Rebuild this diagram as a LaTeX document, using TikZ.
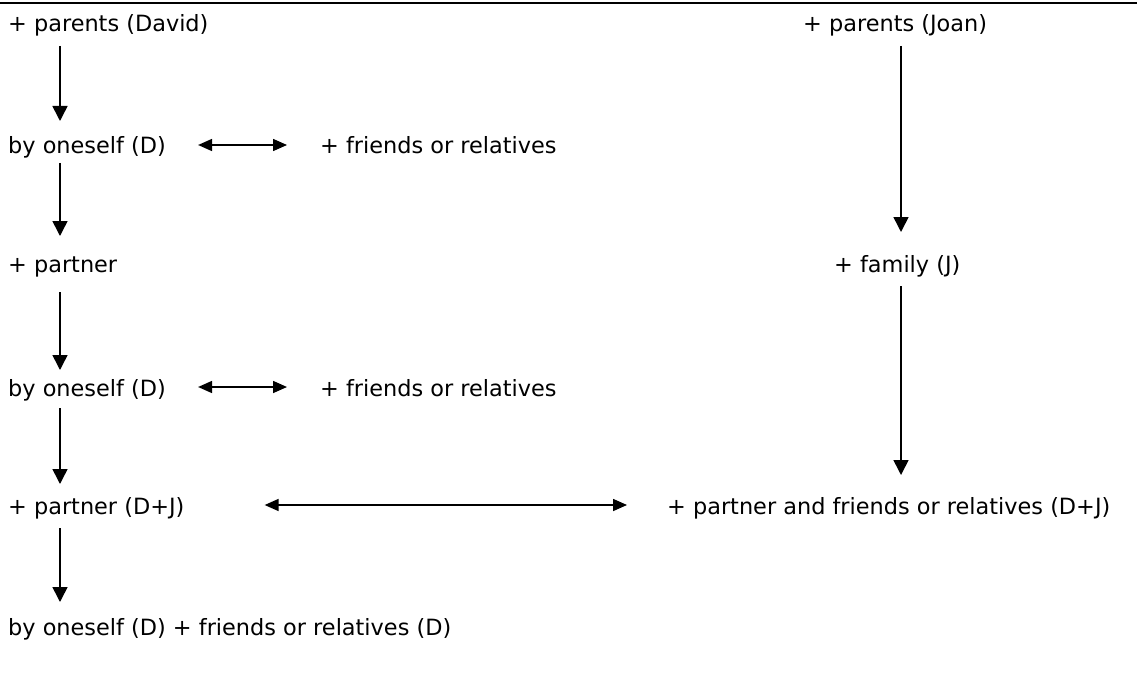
\documentclass[tikz,border=0pt]{standalone}
\usepackage{fontspec}
\setmainfont{DejaVu Sans}
\usetikzlibrary{arrows.meta,calc}

\tikzset{
  label/.style={anchor=base west, inner sep=0pt, font=\fontsize{22.4}{27}\selectfont, text=black},
  down/.style={line width=1.6pt, -{Triangle[length=15pt,width=15pt]}},
  both/.style={line width=1.6pt, {Triangle[length=14pt,width=12pt]}-{Triangle[length=14pt,width=12pt]}}
}

\begin{document}
\begin{tikzpicture}[x=1pt,y=-1pt]
  \useasboundingbox (0,0) rectangle (1137,679);

  % top rule
  \draw[line width=2pt] (0,3) -- (1137,3);

  % David's column
  \node[label] (pd)  at (8,32)  {+ parents (David)};
  \node[label] (bo1) at (8,154) {by oneself (D)};
  \node[label] (fr1) at (320,154) {+ friends or relatives};
  \node[label] (pa)  at (8,272) {+ partner};
  \node[label] (bo2) at (8,396) {by oneself (D)};
  \node[label] (fr2) at (320,396) {+ friends or relatives};
  \node[label] (pdj) at (8,514) {+ partner (D+J)};
  \node[label] (end) at (8,635) {by oneself (D) + friends or relatives (D)};

  % Joan's column
  \node[label] (pj)  at (803,32)  {+ parents (Joan)};
  \node[label] (fj)  at (834,272) {+ family (J)};
  \node[label] (pfr) at (667,514) {+ partner and friends or relatives (D+J)};

  % downward steps
  \draw[down] ($(pd.base west)+(52,14)$)  -- ($(bo1.base west)+(52,-33)$);
  \draw[down] ($(bo1.base west)+(52,9)$)  -- ($(pa.base west)+(52,-36)$);
  \draw[down] ($(pa.base west)+(52,20)$)  -- ($(bo2.base west)+(52,-26)$);
  \draw[down] ($(bo2.base west)+(52,12)$) -- ($(pdj.base west)+(52,-30)$);
  \draw[down] ($(pdj.base west)+(52,14)$) -- ($(end.base west)+(52,-33)$);

  \draw[down] ($(pj.base west)+(98,14)$)  -- ($(fj.base west)+(67,-40)$);
  \draw[down] ($(fj.base west)+(67,14)$)  -- ($(pfr.base west)+(234,-39)$);

  % two-way links
  \draw[both] ($(bo1.base east)+(32,-9)$) -- ($(fr1.base west)+(-33,-9)$);
  \draw[both] ($(bo2.base east)+(32,-9)$) -- ($(fr2.base west)+(-33,-9)$);
  \draw[both] ($(pdj.base east)+(80,-9)$) -- ($(pfr.base west)+(-40,-9)$);
\end{tikzpicture}
\end{document}
